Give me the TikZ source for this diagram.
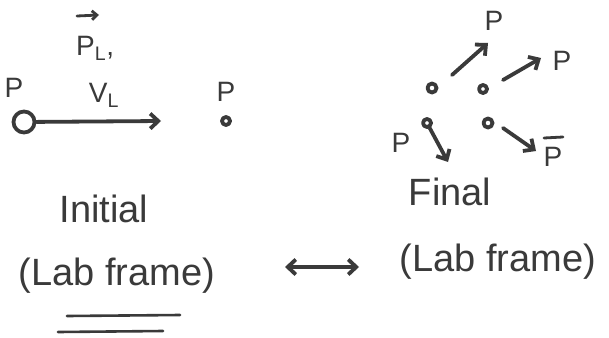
\documentclass[tikz,border=0pt]{standalone}
\usepackage{fontspec}
\setmainfont{Liberation Sans}
\usetikzlibrary{arrows.meta}
\definecolor{ink}{HTML}{3A3A3A}
\tikzset{
  pen/.style={draw=ink, line width=3.8pt, line cap=round, line join=round},
  arr/.style={pen, -{Straight Barb[length=8pt, width=15pt, line width=3.8pt]}},
  darr/.style={pen, {Straight Barb[length=8pt, width=15pt, line width=3.8pt]}-{Straight Barb[length=8pt, width=15pt, line width=3.8pt]}},
  lbl/.style={text=ink, inner sep=0pt, font=\fontsize{28}{30}\selectfont},
  big/.style={text=ink, inner sep=0pt, font=\fontsize{38}{42}\selectfont},
  ball/.style={circle, pen, inner sep=0pt, minimum size=#1},
}
\begin{document}
\begin{tikzpicture}[x=1pt, y=-1pt]
\useasboundingbox (0,0) rectangle (609,337);
\fill[white] (0,0) rectangle (609,337);
% ---- initial
\node[lbl] (pA) at (14,88) {P};
\node[ball=21pt] (big) at (24,122) {};
\coordinate (e0) at (161,121);
\draw[arr] (big) -- (e0);
\node[lbl, anchor=west] (pL) at (76,48) {P\textsubscript{L},};
\coordinate (v1) at (77,16); \coordinate (v2) at (99,15);
\draw[pen, line width=2.8pt, -{Straight Barb[length=5pt, width=9pt, line width=2.8pt]}] (v1) -- (v2);
\node[lbl] (vL) at (104,95) {V\textsubscript{L}};
\node[lbl] (pB) at (226,92) {P};
\node[ball=8pt] (t0) at (226,121) {};
% ---- final
\node[ball=9pt] (c1) at (432,88) {};
\node[ball=8pt] (c2) at (483,89) {};
\node[ball=9pt] (c3) at (488,123) {};
\node[ball=8pt] (c4) at (427,123) {};
\coordinate (s1) at (452,75); \coordinate (e1) at (488,43);
\coordinate (s2) at (503,80); \coordinate (e2) at (541,58);
\coordinate (s3) at (503,128); \coordinate (e3) at (536,151);
\coordinate (e4) at (448,162);
\draw[arr] (s1) -- (e1);
\draw[arr] (s2) -- (e2);
\draw[arr] (s3) -- (e3);
\draw[arr] (c4) -- (e4);
\node[lbl] (p1) at (494,21) {P};
\node[lbl] (p2) at (562,61) {P};
\node[lbl] (p3) at (553,157) {P};
\coordinate (b1) at (544,138); \coordinate (b2) at (563,137);
\draw[pen, line width=2.8pt] (b1) -- (b2);
\node[lbl] (p4) at (401,143) {P};
% ---- texts
\node[big] (ini) at (104,209) {Initial};
\node[big] (lab1) at (117,276) {(Lab frame)};
\node[big] (fin) at (450,192) {Final};
\node[big] (lab2) at (498,262) {(Lab frame)};
\coordinate (u1a) at (67,316); \coordinate (u1b) at (180,315);
\coordinate (u2a) at (58,332); \coordinate (u2b) at (163,331);
\draw[pen, line width=2.6pt] (u1a) -- (u1b);
\draw[pen, line width=2.6pt] (u2a) -- (u2b);
\coordinate (d1) at (285,267); \coordinate (d2) at (359,267);
\draw[darr] (d1) -- (d2);
\end{tikzpicture}
\end{document}
